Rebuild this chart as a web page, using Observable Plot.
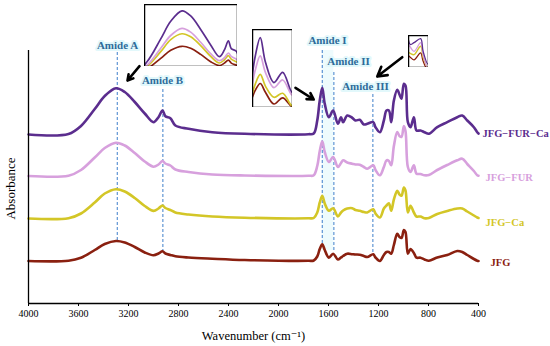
<!DOCTYPE html>
<html>
<head>
<meta charset="utf-8">
<script src="https://cdn.jsdelivr.net/npm/d3@7"></script>
<script src="https://cdn.jsdelivr.net/npm/@observablehq/plot@0.6"></script>
<style>
  body { margin: 0; background: white; }
  #wrap { position: relative; width: 550px; height: 346px; }
  .inset { position: absolute; background: white; }
  #wrap svg, #wrap svg text { font-family: "Liberation Serif", "DejaVu Serif", serif !important; }
</style>
</head>
<body>
<div id="wrap"></div>
<script>
// ---- Data (absorbance, arbitrary units) ----
const wavenumbers = [4000, 3680, 3580, 3470, 3390, 3300, 3230, 3150, 3070, 3000, 2960, 2928, 2905, 2865, 2825, 2720, 2530, 2270, 1760, 1718, 1690, 1670, 1650, 1630, 1597, 1563, 1525, 1500, 1483, 1450, 1410, 1384, 1350, 1317, 1290, 1242, 1224, 1189, 1157, 1136, 1117, 1098, 1077, 1050, 1032, 1016, 997, 984, 965, 944, 917, 896, 864, 832, 797, 730, 650, 570, 530, 490, 437, 410, 400];
const absFurCa = [0, 0.5, 8.5, 25.5, 38.5, 46.3, 42.5, 32.5, 21, 12.3, 17.3, 24, 18.3, 16.3, 9, 5.7, 2.3, 0.7, 0.3, 1, 14, 34, 46.7, 30.7, 17.3, 24, 10.7, 17.3, 12.3, 19, 16.7, 14, 14.7, 10, 10.7, 12.3, 7.3, 2.3, 14, 24, 24, 12.3, 34, 44.7, 40, 35.7, 50.7, 49, 12.3, 7.3, 17.3, 4, 4, 2.3, 0.7, 7.3, 12.3, 17.3, 19, 14, 7.3, 2.3, 1];
const absFur = [0, 0.3, 6, 18.5, 28, 33.3, 30.5, 23, 14.5, 9.3, 11.5, 15, 12.5, 10.5, 6.5, 4, 1.5, 0.5, 0.2, 0.8, 10, 25, 34.7, 24, 14, 19, 9, 13, 15.7, 13.5, 12.3, 11.5, 11.3, 9, 7.3, 10.7, 6, 0.7, 9, 15.7, 15, 10.7, 30, 44, 40, 39, 50, 45, 9, 4, 10.7, 2.3, 2, 0.7, 1, 6, 11, 15.7, 17.3, 12, 5, 0.7, 0.3];
const absCa = [0, 0.3, 5, 16, 25, 29.3, 27, 20.5, 12.5, 7.6, 10, 13, 10.5, 8.5, 6, 4, 2, 0.8, 0.2, 0.5, 6, 16, 22.7, 15, 7.7, 10.3, 2, 6, 8, 10, 10.3, 8.5, 7.7, 6.5, 6, 9.3, 5, 1, 10, 13, 15.3, 7.7, 19, 27.7, 24, 22.7, 31, 28, 6, 12.7, 6, 2, 2, 0.3, 0.5, 4.5, 7.5, 10, 10, 7, 3, 1, 0.5];
const absJfg = [0, 0.3, 3.3, 11, 17, 20, 18.5, 14, 8.5, 5.7, 7.5, 9.7, 7.5, 6, 4.7, 3.5, 2.3, 1, 0.2, 0.5, 4.5, 12, 16.7, 11, 3.3, 7.3, 1.5, 3.5, 5, 7.3, 6.8, 6.5, 6.3, 5, 4, 6.7, 3.5, 0, 6, 9, 9, 7.3, 16, 27.3, 24, 23, 31, 29, 7.3, 12, 8, 3.3, 3.3, 1.5, 0.3, 3.5, 6, 10, 9, 6, 2, 0.3, 0];

const seriesNames = ["JFG−FUR−Ca", "JFG−FUR", "JFG−Ca", "JFG"];
const seriesValues = [absFurCa, absFur, absCa, absJfg];
const stackOffsets = [169, 127.5, 85, 42.5];   // vertical stacking offset of each spectrum

const xTicks = [4000, 3600, 3200, 2800, 2400, 2000, 1600, 1200, 800, 400];

const amideNames = ["Amide A", "Amide B", "Amide I", "Amide II", "Amide III"];
const amideWn = [3290, 2925, 1650, 1557, 1245];
const amideLineTop = [253, 216, 253, 233, 209];
const amideLineBottom = [63, 51, 60, 53, 51];
const amideLabelWn = [3288, 2928, 1608, 1440, 1304];
const amideLabelY = [258, 223, 263, 242.5, 217];

const arrowX1 = [3112, 1864, 1010];
const arrowY1 = [237.3, 215.7, 246.3];
const arrowX2 = [3208, 1718, 1210];
const arrowY2 = [223, 204, 227];

// ---- styles ----
const colors = ["#5b2d8e", "#d7a0dd", "#d3c627", "#8a2010"];
const labelY = [170, 126, 81, 41];
const labelDx = [4, 7, 7, 12];
const font = "'Liberation Serif', 'DejaVu Serif', serif";

const series = seriesNames.map((name, i) => ({
  name, color: colors[i], offset: stackOffsets[i],
  rows: wavenumbers.map((wn, j) => ({wn, a: seriesValues[i][j]}))
}));

const amides = amideNames.map((name, i) => ({
  name, wn: amideWn[i], top: amideLineTop[i], bottom: amideLineBottom[i],
  lx: amideLabelWn[i], ly: amideLabelY[i]
}));
const arrows = arrowX1.map((x1, i) => ({x1, y1: arrowY1[i], x2: arrowX2[i], y2: arrowY2[i]}));

const main = Plot.plot({
  width: 550, height: 346,
  marginLeft: 28, marginRight: 72, marginTop: 0, marginBottom: 43,
  style: {fontFamily: font, fontSize: "10px", background: "white", color: "black"},
  x: {domain: [4000, 400], ticks: xTicks, tickFormat: d => String(d), tickSize: 3, tickPadding: 3, label: null},
  y: {domain: [0, 303], axis: null},
  marks: [
    Plot.rect([amides[2]], {x1: "wn", x2: d => amides[3].wn, y1: 53, y2: 253, fill: "#eefbfd"}),
    Plot.ruleX(amides, {x: "wn", y1: "bottom", y2: "top", stroke: "#3f7fcb", strokeWidth: 1, strokeDasharray: "3,2"}),
    ...series.map(s => Plot.line(s.rows, {
      x: "wn", y: d => d.a + s.offset, stroke: s.color, strokeWidth: 2.6, curve: "catmull-rom"
    })),
    Plot.ruleY([0], {x1: 4000, x2: 400, stroke: "black", strokeWidth: 1.3}),
    Plot.ruleX([4000], {y1: 0, y2: 253, stroke: "black", strokeWidth: 1.3}),
    Plot.text(amides, {
      x: "lx", y: "ly", text: "name", fill: "#2e6b9a", fontWeight: "bold", fontSize: 11,
      stroke: "#e2f8fb", strokeWidth: 4, paintOrder: "stroke"
    }),
    ...series.map((s, i) => Plot.text([s], {
      x: 400, y: labelY[i], text: "name", fill: s.color, fontWeight: "bold", fontSize: 10.5,
      textAnchor: "start", dx: labelDx[i]
    })),
    Plot.arrow(arrows, {x1: "x1", y1: "y1", x2: "x2", y2: "y2", stroke: "black", strokeWidth: 2.6, headLength: 7, bend: 0}),
    Plot.text(["Absorbance"], {x: 4000, y: 115, text: d => d, rotate: -90, dx: -18, fontSize: 13, fill: "black"}),
    Plot.text(["Wavenumber (cm⁻¹)"], {x: 2200, y: -32, text: d => d, fontSize: 12.5, fill: "black"})
  ]
});

const wrap = document.getElementById("wrap");
wrap.appendChild(main);

// ---- insets (zoomed views of the same spectra, without offsets) ----
function inset(left, top, w, h, xDomain, yDomain, sw) {
  const p = Plot.plot({
    width: w, height: h, margin: 0,
    style: {background: "white"},
    x: {domain: xDomain, axis: null},
    y: {domain: yDomain, axis: null},
    marks: [
      ...series.slice().reverse().map(s => Plot.line(s.rows, {
        x: "wn", y: "a", stroke: s.color, strokeWidth: sw, curve: "catmull-rom", clip: true
      })),
      Plot.frame({stroke: "black", strokeWidth: 1.5})
    ]
  });
  const d = document.createElement("div");
  d.className = "inset";
  d.style.left = left + "px"; d.style.top = top + "px";
  d.style.width = w + "px"; d.style.height = h + "px";
  d.appendChild(p);
  wrap.appendChild(d);
}
inset(143.5, 4, 93, 62, [3600, 2855], [5, 51], 1.7);
inset(252, 29, 40, 78, [1680, 1525], [1, 52], 1.7);
inset(408, 35, 20, 32, [1330, 1185], [1, 13.5], 1.3);
</script>
</body>
</html>
